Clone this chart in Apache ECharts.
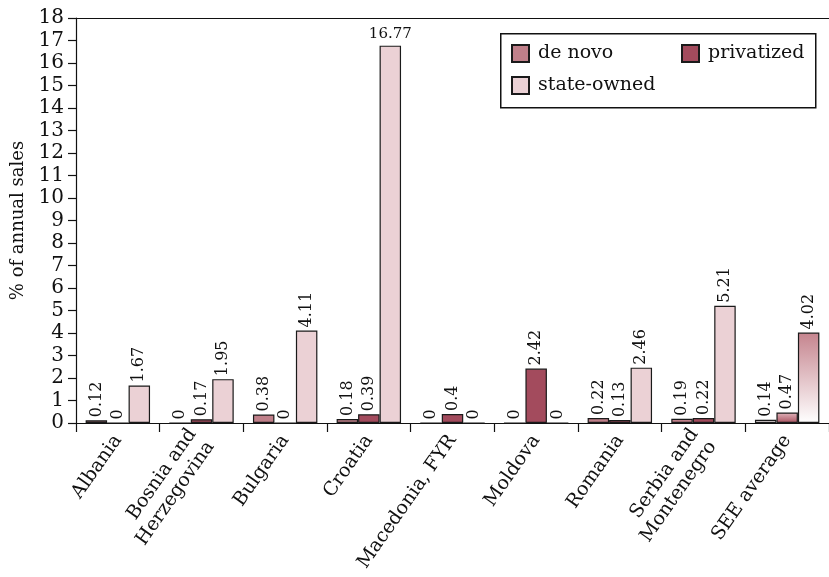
<!DOCTYPE html>
<html>
<head>
<meta charset="utf-8">
<script src="https://cdn.jsdelivr.net/npm/echarts@6/dist/echarts.min.js"></script>
<style>
html,body{margin:0;padding:0;background:#fff;}
#main{width:829px;height:577px;}
</style>
</head>
<body>
<div id="main"></div>
<script>
const categories = ['Albania', 'Bosnia and\nHerzegovina', 'Bulgaria', 'Croatia', 'Macedonia, FYR', 'Moldova', 'Romania', 'Serbia and\nMontenegro', 'SEE average'];
const deNovo = [0.12, 0, 0.38, 0.18, 0, 0, 0.22, 0.19, 0.14];
const privatized = [0, 0.17, 0, 0.39, 0.4, 2.42, 0.13, 0.22, 0.47];
const stateOwned = [1.67, 1.95, 4.11, 16.77, 0, 0, 2.46, 5.21, 4.02];
const yTicks = {min: 0, max: 18, interval: 1};

const FONT = 'DejaVu Serif';
const colDeNovo = '#c0808a';
const colPriv = '#a34b5d';
const colState = '#ebd1d5';
const avgIndex = categories.length - 1;

function grad(top, bottom) {
  return {type: 'linear', x: 0, y: 0, x2: 0, y2: 1,
    colorStops: [{offset: 0, color: top}, {offset: 1, color: bottom}]};
}
const avgFill = {
  deNovo: grad('#ecd6da', '#ffffff'),
  priv: grad('#e2b6bd', '#a9525f'),
  state: grad('#c5848e', '#ffffff')
};

const labelBase = {
  show: true, position: 'top', rotate: 90, align: 'left', verticalAlign: 'middle',
  distance: 3, fontFamily: FONT, fontSize: 16, color: '#111'
};

function buildData(values, avgColor, horizontalIdx) {
  return values.map((v, i) => {
    const item = {value: v};
    if (i === avgIndex) item.itemStyle = {color: avgColor};
    if (horizontalIdx !== undefined && i === horizontalIdx) {
      item.label = {rotate: 0, align: 'center', verticalAlign: 'bottom', distance: 4, fontSize: 15};
    }
    return item;
  });
}

const barStyle = {borderColor: '#1a1a1a', borderWidth: 1.2};

const legendCommon = {
  itemWidth: 17, itemHeight: 17, padding: 0, icon: 'rect',
  textStyle: {fontFamily: FONT, fontSize: 19, color: '#111', padding: [0, 0, 0, 4]},
  selectedMode: false
};

const chart = echarts.init(document.getElementById('main'), null, {renderer: 'canvas'});
chart.setOption({
  animation: false,
  backgroundColor: '#ffffff',
  grid: {left: 76, right: -2, top: 18, bottom: 154, containLabel: false},
  graphic: [{
    type: 'rect', left: 500, top: 33, z: 0,
    shape: {width: 315, height: 74},
    style: {fill: '#fff', stroke: '#111', lineWidth: 1.5}
  }],
  legend: [
    Object.assign({data: ['de novo'], left: 511, top: 44}, legendCommon),
    Object.assign({data: ['privatized'], left: 681, top: 44}, legendCommon),
    Object.assign({data: ['state-owned'], left: 511, top: 76}, legendCommon)
  ],
  xAxis: [{
    type: 'category',
    data: categories,
    position: 'bottom',
    axisLine: {show: true, lineStyle: {color: '#111', width: 1.2}},
    axisTick: {show: true, alignWithLabel: false, length: 9, lineStyle: {color: '#111', width: 1.2}},
    axisLabel: {rotate: 55, margin: 14, fontFamily: FONT, fontSize: 19, color: '#111', interval: 0, lineHeight: 22}
  }, {
    type: 'category',
    data: categories,
    position: 'top',
    axisLine: {show: true, lineStyle: {color: '#111', width: 1.2}},
    axisTick: {show: false},
    axisLabel: {show: false}
  }],
  yAxis: {
    type: 'value',
    min: yTicks.min, max: yTicks.max, interval: yTicks.interval,
    name: '% of annual sales',
    nameLocation: 'middle',
    nameGap: 48,
    nameRotate: 90,
    nameTextStyle: {fontFamily: FONT, fontSize: 18, color: '#111'},
    axisLine: {show: true, lineStyle: {color: '#111', width: 1.2}},
    axisTick: {show: true, inside: false, length: 8, lineStyle: {color: '#111', width: 1.2}},
    axisLabel: {margin: 12, fontFamily: FONT, fontSize: 20, color: '#111'},
    splitLine: {show: false}
  },
  series: [{
    name: 'de novo', type: 'bar', barGap: '0%', barCategoryGap: '23%',
    itemStyle: Object.assign({color: colDeNovo}, barStyle),
    label: labelBase,
    data: buildData(deNovo, avgFill.deNovo)
  }, {
    name: 'privatized', type: 'bar', barGap: '0%', barCategoryGap: '23%',
    itemStyle: Object.assign({color: colPriv}, barStyle),
    label: labelBase,
    data: buildData(privatized, avgFill.priv)
  }, {
    name: 'state-owned', type: 'bar', barGap: '0%', barCategoryGap: '23%',
    itemStyle: Object.assign({color: colState}, barStyle),
    label: labelBase,
    data: buildData(stateOwned, avgFill.state, 3)
  }]
});
</script>
</body>
</html>
